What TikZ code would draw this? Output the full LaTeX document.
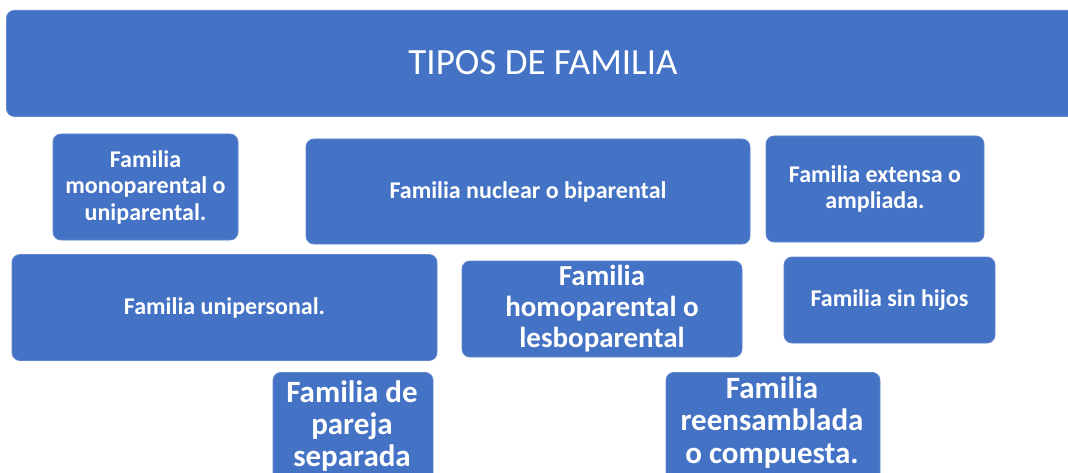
\documentclass[tikz,border=0pt]{standalone}
\usepackage{fontspec}
\setmainfont{Carlito}
\definecolor{azul}{HTML}{4472C4}

\begin{document}
\begin{tikzpicture}[x=1pt, y=-1pt,
  caja/.style={rectangle, rounded corners=8pt, fill=azul, draw=azul!85!white, line width=0.8pt, text=white, align=center, inner sep=0pt, font=\bfseries\fontsize{24}{26.5}\selectfont},
  cajagrande/.style={caja, font=\bfseries\fontsize{29}{31}\selectfont},
  letras/.style={text=white, align=center, inner sep=0pt}]

\useasboundingbox (0,0) rectangle (1068,473);

% Nodes
\node (tipos) [caja, minimum width=1080, minimum height=106, anchor=north west] at (6,10) {};
\node (titulo) [letras, font=\fontsize{37}{40}\selectfont] at (543,63) {TIPOS DE FAMILIA};
\node (mono) [caja, minimum width=185, minimum height=106] at (145.5,187) {Familia\\monoparental o\\uniparental.};
\node (nuclear) [caja, minimum width=444, minimum height=105] at (528,191.5) {Familia nuclear o biparental};
\node (extensa) [caja, minimum width=218, minimum height=106] at (875,189) {Familia extensa o\\ampliada.};
\node (unipersonal) [caja, minimum width=425, minimum height=106] at (224.5,307.5) {Familia unipersonal.};
\node (homo) [cajagrande, minimum width=280, minimum height=96] at (602,309) {Familia\\homoparental o\\lesboparental};
\node (sinhijos) [caja, minimum width=211, minimum height=86] at (889.5,300) {Familia sin hijos};
\node (separada) [caja, minimum width=160, minimum height=120, anchor=north] at (353,372) {};
\node (separadatxt) [letras, font=\bfseries\fontsize{31}{32}\selectfont] at (352,426) {Familia de\\pareja\\separada};
\node (reensamblada) [caja, minimum width=214, minimum height=120, anchor=north] at (773,372) {};
\node (reensambladatxt) [letras, font=\bfseries\fontsize{31}{32.5}\selectfont] at (772,422.5) {Familia\\reensamblada\\o compuesta.};

\end{tikzpicture}
\end{document}
